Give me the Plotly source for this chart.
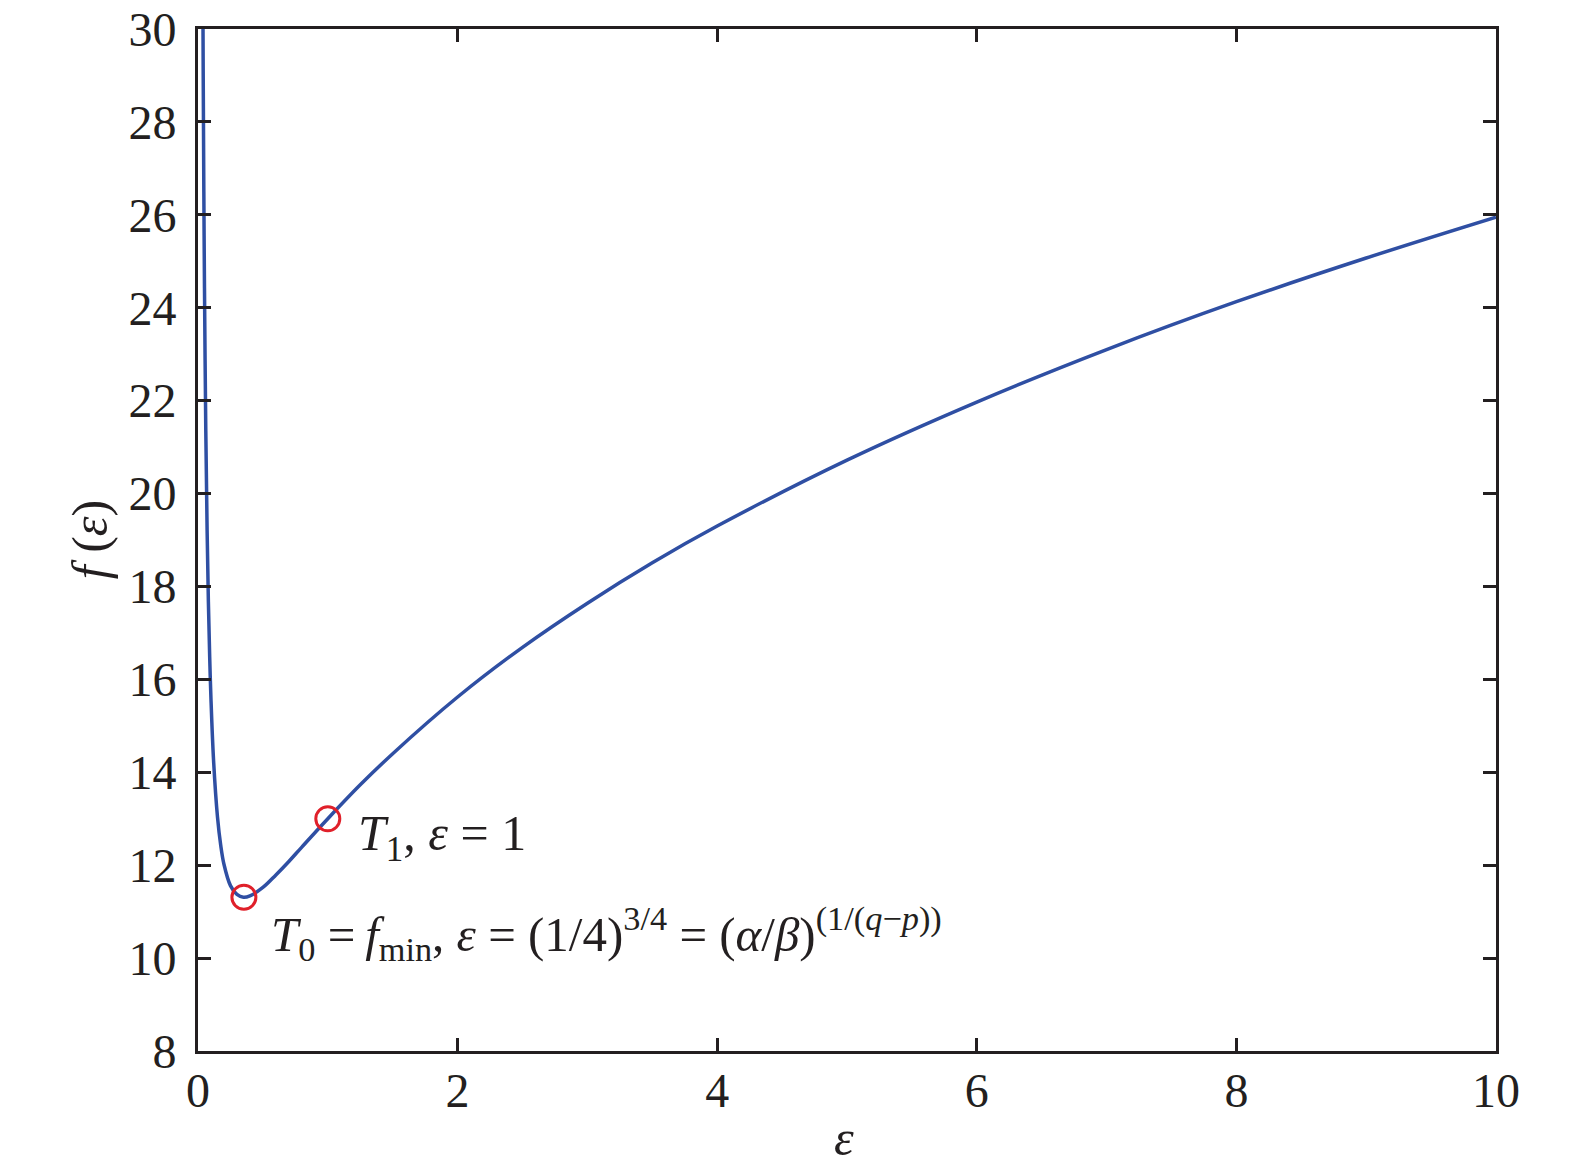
import plotly.graph_objects as go

# values
eps = [0.035, 0.04, 0.045, 0.05, 0.06, 0.07, 0.08, 0.09, 0.1, 0.12, 0.15, 0.175, 0.2, 0.25, 0.3, 0.35,
       0.4, 0.5, 0.6, 0.7, 0.8, 1.0, 1.25, 1.5, 2.0, 2.5, 3.0, 3.5, 4.0, 5.0, 6.0, 7.0, 8.0, 9.0, 10.0]
f_eps = [32.50, 29.10, 26.49, 24.42, 21.36, 19.23, 17.67, 16.49, 15.57, 14.25, 13.04, 12.43, 12.02, 11.56, 11.37, 11.31,
         11.34, 11.52, 11.79, 12.08, 12.39, 13.00, 13.73, 14.40, 15.62, 16.69, 17.64, 18.51, 19.30, 20.72, 21.97, 23.10, 24.13, 25.07, 25.95]

mark_x = [0.3536, 1.0]
mark_y = [11.31, 13.0]

x_ticks = [0, 2, 4, 6, 8, 10]
y_ticks = [8, 10, 12, 14, 16, 18, 20, 22, 24, 26, 28, 30]

FONT = "Liberation Serif"
INK = "#231f20"

fig = go.Figure()
fig.add_trace(go.Scatter(x=eps, y=f_eps, mode="lines", line=dict(color="#2f4fa3", width=3.5, shape="spline"),
                         showlegend=False))
fig.add_trace(go.Scatter(x=mark_x, y=mark_y, mode="markers",
                         marker=dict(symbol="circle-open", size=24, color="#e0202a", line=dict(width=3, color="#e0202a")),
                         showlegend=False))

fig.add_annotation(x=1.22, y=12.6, xref="x", yref="y", xanchor="left", yanchor="middle", showarrow=False,
                   text="<i>T</i><sub>1</sub>, <i>ε</i> = 1", font=dict(family=FONT, size=50, color=INK))
fig.add_annotation(x=0.545, y=10.52, xref="x", yref="y", xanchor="left", yanchor="middle", showarrow=False,
                   text="<i>T</i><sub>0</sub> =\u2009<i>f</i><sub>min</sub>, <i>ε</i> = (1/4)<sup>3/4</sup> = (<i>α</i>/<i>β</i>)<sup>(1/(<i>q</i>−<i>p</i>))</sup>",
                   font=dict(family=FONT, size=49, color=INK))
fig.add_annotation(x=-0.083, y=0.5, xref="paper", yref="paper", xanchor="center", yanchor="middle",
                   showarrow=False, textangle=-90,
                   text="<i>f</i> (<i>ε</i>)", font=dict(family=FONT, size=50, color=INK))
fig.add_annotation(x=0.4977, y=-0.085, xref="paper", yref="paper", xanchor="center", yanchor="middle",
                   showarrow=False, text="<i>ε</i>", font=dict(family=FONT, size=50, color=INK))

axis_common = dict(showline=True, linecolor=INK, linewidth=3, mirror="ticks", ticks="inside",
                   ticklen=13, tickwidth=3, tickcolor=INK, showgrid=False, zeroline=False, automargin=False,
                   ticklabeloverflow="allow", tickfont=dict(family=FONT, size=48, color=INK))

fig.update_xaxes(range=[0, 10], tickvals=x_ticks, ticklabelstandoff=-5, **axis_common)
fig.update_yaxes(range=[8, 30], tickvals=y_ticks, ticklabelstandoff=9, **axis_common)

fig.update_layout(width=1575, height=1169, margin=dict(l=198, r=79, t=29, b=118),
                  plot_bgcolor="white", paper_bgcolor="white")
fig.write_html("out.html", config={"displayModeBar": False},
               post_script="document.body.style.margin='0';")
